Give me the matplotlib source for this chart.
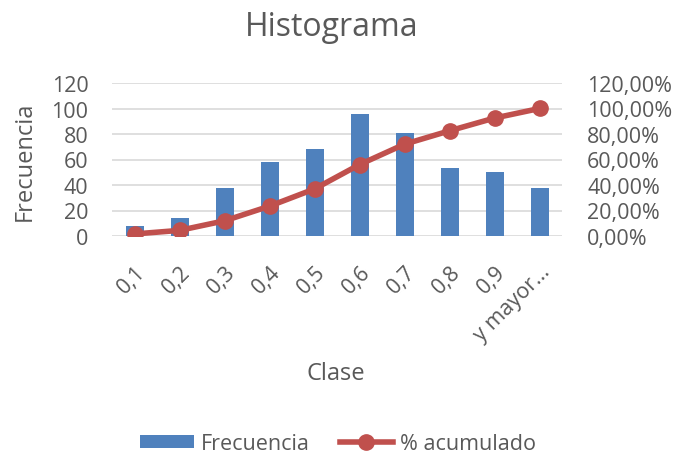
import matplotlib.pyplot as plt
import numpy as np

plt.rcParams['font.family'] = ['Open Sans', 'DejaVu Sans']

# datos del histograma
clases = ['0,1', '0,2', '0,3', '0,4', '0,5', '0,6', '0,7', '0,8', '0,9', 'y mayor...']
frecuencia = [8, 14, 38, 58, 68, 96, 81, 53, 50, 38]
acumulado = [1.6, 4.4, 11.9, 23.4, 36.9, 56.0, 72.0, 82.5, 92.5, 100.0]

azul = '#4F81BD'
rojo = '#C0504D'
gris = '#595959'

W, H = 682, 460
fig = plt.figure(figsize=(W / 100, H / 100), dpi=100)
ax = fig.add_axes([112 / W, 1 - 237 / H, 450 / W, 153 / H])
x = np.arange(len(clases))

ax.bar(x, frecuencia, width=0.4, color=azul, zorder=2, label='Frecuencia')
ax.set_ylim(0, 120)
ax.set_xlim(-0.5, len(clases) - 0.5)
ax.set_yticks(range(0, 121, 20))
ax.grid(axis='y', color='#D9D9D9', linewidth=1.2, zorder=0)
for s in ax.spines.values():
    s.set_visible(False)
ax.tick_params(length=0, labelsize=15.5, colors=gris, pad=17)
ax.set_xticks(x)
ax.set_xticklabels(clases, rotation=45, ha='right', rotation_mode='anchor')
ax.tick_params(axis='x', pad=18)

ax2 = ax.twinx()
ax2.plot(x, np.array(acumulado) / 100, color=rojo, linewidth=4, marker='o',
         markersize=11, zorder=3, label='% acumulado')
ax2.set_ylim(0, 1.2)
ax2.set_yticks(np.arange(0, 1.21, 0.2))
ax2.set_yticklabels([f'{v:.2f}%'.replace('.', ',') for v in np.arange(0, 121, 20)])
for s in ax2.spines.values():
    s.set_visible(False)
ax2.tick_params(length=0, labelsize=15.5, colors=gris, pad=18)

# textos
fig.text(332 / W, 1 - 27 / H, 'Histograma', ha='center', va='center', fontsize=23, color=gris)
fig.text(25 / W, 1 - 161 / H, 'Frecuencia', ha='center', va='center', rotation=90,
         fontsize=17, color=gris)
fig.text(336 / W, 1 - 374 / H, 'Clase', ha='center', va='center', fontsize=17, color=gris)

h1, l1 = ax.get_legend_handles_labels()
h2, l2 = ax2.get_legend_handles_labels()
fig.legend(h1 + h2, l1 + l2, loc='center', bbox_to_anchor=(338 / W, 1 - 445 / H), ncol=2,
           frameon=False, fontsize=15.5, labelcolor=gris, handlelength=2.5,
           handletextpad=0.3, columnspacing=1.4, handleheight=0.55)

fig.savefig('out.png', dpi=100)
